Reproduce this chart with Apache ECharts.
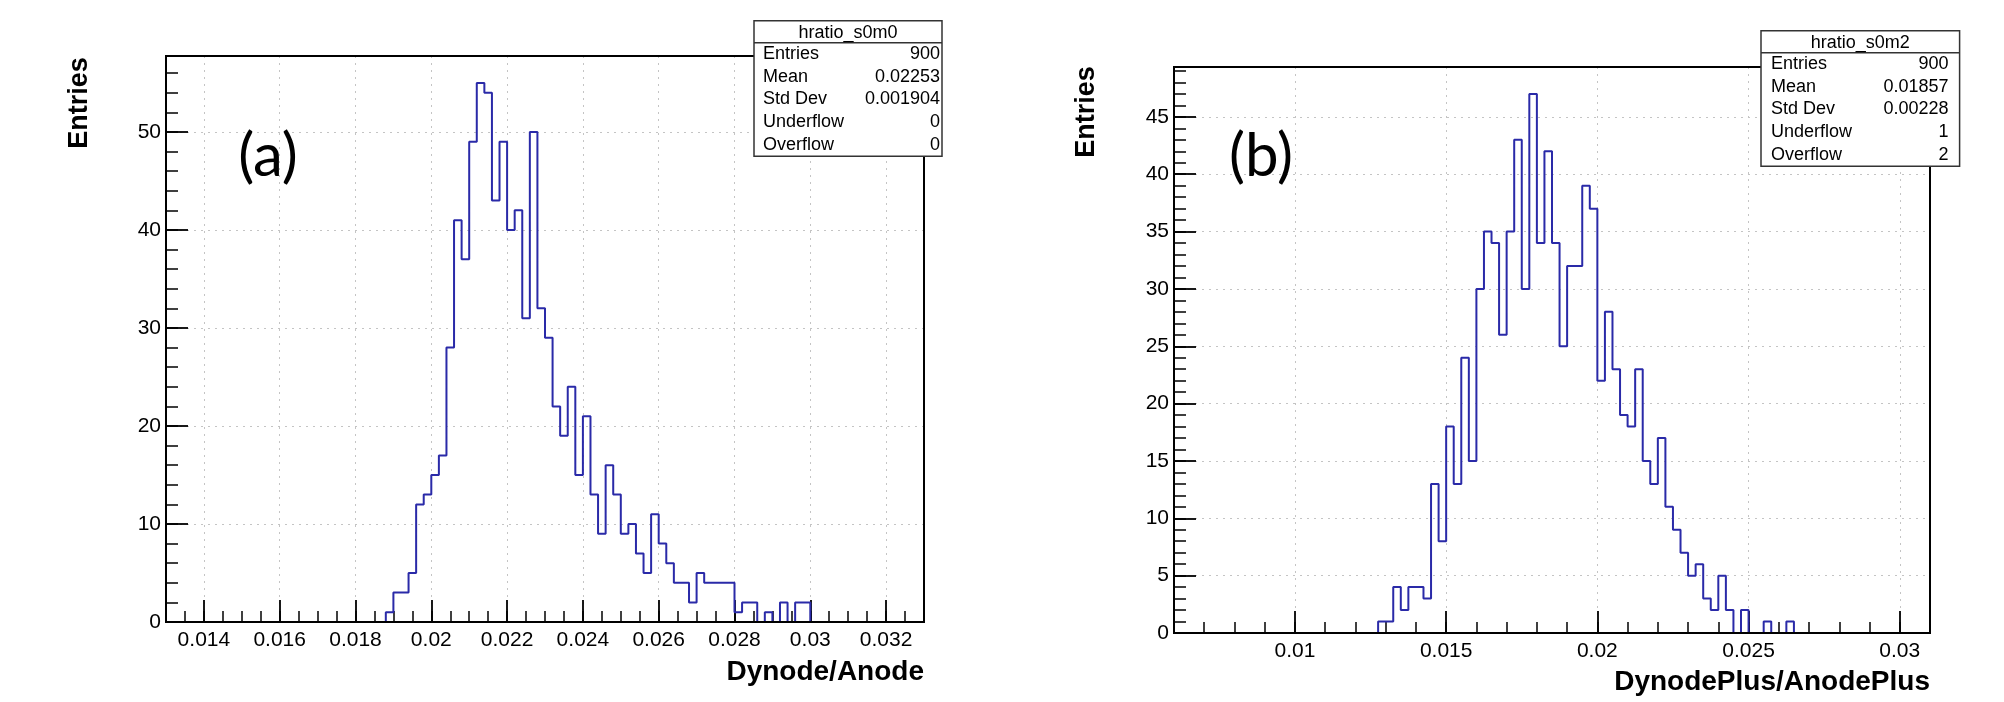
<!DOCTYPE html>
<html>
<head>
<meta charset="utf-8">
<script src="https://cdn.jsdelivr.net/npm/echarts@6/dist/echarts.min.js"></script>
<style>
html, body { margin: 0; padding: 0; background: #fff; }
#main { width: 2004px; height: 702px; }
</style>
</head>
<body>
<div id="main"></div>
<script>
// (a) hratio_s0m0 : 100 bins between 0.013 and 0.033
var rangeA = [0.013, 0.033]
var countsA = [
  0, 0, 0, 0, 0, 0, 0, 0, 0, 0, 0, 0, 0, 0, 0, 0, 0, 0, 0, 0,
  0, 0, 0, 0, 0, 0, 0, 0, 0, 1, 3, 3, 5, 12, 13, 15, 17, 28, 41, 37,
  49, 55, 54, 43, 49, 40, 42, 31, 50, 32, 29, 22, 19, 24, 15, 21, 13, 9, 16, 13,
  9, 10, 7, 5, 11, 8, 6, 4, 4, 2, 5, 4, 4, 4, 4, 1, 2, 2, 0, 1,
  0, 2, 0, 2, 2, 0, 0, 0, 0, 0, 0, 0, 0, 0, 0, 0, 0, 0, 0, 0
]
var xTicksA = [0.014, 0.016, 0.018, 0.02, 0.022, 0.024, 0.026, 0.028, 0.03, 0.032]
var yTicksA = [0, 10, 20, 30, 40, 50]
var statsA = ['900', '0.02253', '0.001904', '0', '0']

// (b) hratio_s0m2 : 100 bins between 0.006 and 0.031
var rangeB = [0.006, 0.031]
var countsB = [
  0, 0, 0, 0, 0, 0, 0, 0, 0, 0, 0, 0, 0, 0, 0, 0, 0, 0, 0, 0,
  0, 0, 0, 0, 0, 0, 0, 1, 1, 4, 2, 4, 4, 3, 13, 8, 18, 13, 24, 15,
  30, 35, 34, 26, 35, 43, 30, 47, 34, 42, 34, 25, 32, 32, 39, 37, 22, 28, 23, 19,
  18, 23, 15, 13, 17, 11, 9, 7, 5, 6, 3, 2, 5, 2, 0, 2, 0, 0, 1, 0,
  0, 1, 0, 0, 0, 0, 0, 0, 0, 0, 0, 0, 0, 0, 0, 0, 0, 0, 0, 0
]
var xTicksB = [0.01, 0.015, 0.02, 0.025, 0.03]
var yTicksB = [0, 5, 10, 15, 20, 25, 30, 35, 40, 45]
var statsB = ['900', '0.01857', '0.00228', '1', '2']

var statNames = ['Entries', 'Mean', 'Std Dev', 'Underflow', 'Overflow']

var FONT = 'Liberation Sans, Arial, Helvetica, sans-serif'
var LINE = '#2a2aa8'

// plot frames (left, top, width, height)
var frameA = [166, 56, 758, 566]
var frameB = [1174, 67, 756, 566]

// histogram outline: one point per low edge, plus the upper edge
function stepData(range, counts) {
  var w = (range[1] - range[0]) / counts.length
  var pts = []
  for (var i = 0; i < counts.length; i++) {
    pts.push([range[0] + i * w, counts[i]])
  }
  pts.push([range[1], counts[counts.length - 1]])
  return pts
}

function fmt(v) {
  return String(+Number(v).toPrecision(6))
}

// only print the labels listed in ticks (hides the extent labels)
function labelsFrom(ticks) {
  return function (v) {
    for (var i = 0; i < ticks.length; i++) {
      if (Math.abs(ticks[i] - v) < 1e-9) return fmt(v)
    }
    return ''
  }
}

function gridOf(f) {
  return { left: f[0], top: f[1], width: f[2], height: f[3], show: false }
}

function minorAxis(grid, pos, min, max, step, len) {
  return {
    type: 'value', gridIndex: grid, position: pos, min: min, max: max, interval: step,
    axisLine: { show: false },
    axisTick: { show: true, inside: true, length: len, lineStyle: { color: '#000', width: 1.5 } },
    axisLabel: { show: false },
    splitLine: { show: false }
  }
}

function majorAxis(grid, pos, min, max, ticks, step, margin) {
  return {
    type: 'value', gridIndex: grid, position: pos, min: min, max: max,
    minInterval: step, maxInterval: step, splitNumber: 10,
    axisLine: { show: true, onZero: false, lineStyle: { color: '#000', width: 2 } },
    axisTick: { show: true, inside: true, length: 22, lineStyle: { color: '#000', width: 1.8 } },
    axisLabel: { margin: margin, fontSize: 21, color: '#000', fontFamily: FONT, formatter: labelsFrom(ticks) },
    splitLine: { show: true, lineStyle: { color: '#c4c4c4', width: 1, type: [2, 5] } }
  }
}

function frameRect(f) {
  return { type: 'rect', z: 15, shape: { x: f[0], y: f[1], width: f[2], height: f[3] },
    style: { fill: 'none', stroke: '#000', lineWidth: 2 } }
}

function statBox(x0, y0, w, title, values, padL, padR) {
  var titleH = 22
  var rowH = 22.7
  var h = titleH + rowH * 5
  var els = [
    { type: 'rect', z: 20, shape: { x: x0, y: y0, width: w, height: h },
      style: { fill: '#fff', stroke: '#333', lineWidth: 1.5 } },
    { type: 'line', z: 21, shape: { x1: x0, y1: y0 + titleH, x2: x0 + w, y2: y0 + titleH },
      style: { stroke: '#333', lineWidth: 1.5 } },
    { type: 'text', z: 21, x: x0 + w / 2, y: y0 + titleH / 2 + 1,
      style: { text: title, fontSize: 18, fontFamily: FONT, fill: '#000', align: 'center', verticalAlign: 'middle' } }
  ]
  for (var k = 0; k < statNames.length; k++) {
    var cy = y0 + titleH + rowH * (k + 0.5)
    els.push({ type: 'text', z: 21, x: x0 + padL, y: cy,
      style: { text: statNames[k], fontSize: 18, fontFamily: FONT, fill: '#000', align: 'left', verticalAlign: 'middle' } })
    els.push({ type: 'text', z: 21, x: x0 + w - padR, y: cy,
      style: { text: values[k], fontSize: 18, fontFamily: FONT, fill: '#000', align: 'right', verticalAlign: 'middle' } })
  }
  return els
}

function label(text, x, y, size, opts) {
  opts = opts || {}
  return {
    type: 'text', z: 10, x: x, y: y, rotation: opts.rotation || 0,
    style: {
      text: text, fontSize: size, fontFamily: opts.family || FONT, fontWeight: opts.weight || 'normal',
      fill: '#000', align: opts.align || 'center', verticalAlign: 'middle'
    }
  }
}

var yMaxA = Math.max.apply(null, countsA) * 1.05
var yMaxB = Math.max.apply(null, countsB) * 1.05

var chart = echarts.init(document.getElementById('main'))
chart.setOption({
  backgroundColor: '#fff',
  animation: false,
  // grids 0,1 carry the data and minor ticks, grids 2,3 the major ticks, labels and grid lines
  grid: [gridOf(frameA), gridOf(frameB), gridOf(frameA), gridOf(frameB)],
  xAxis: [
    minorAxis(0, 'bottom', rangeA[0], rangeA[1], 0.0005, 11),
    minorAxis(1, 'bottom', rangeB[0], rangeB[1], 0.001, 11),
    majorAxis(2, 'bottom', rangeA[0], rangeA[1], xTicksA, 0.002, 8),
    majorAxis(3, 'bottom', rangeB[0], rangeB[1], xTicksB, 0.005, 8)
  ],
  yAxis: [
    minorAxis(0, 'left', 0, yMaxA, 2, 12),
    minorAxis(1, 'left', 0, yMaxB, 1, 12),
    majorAxis(2, 'left', 0, yMaxA, yTicksA, 10, 5),
    majorAxis(3, 'left', 0, yMaxB, yTicksB, 5, 5)
  ],
  series: [
    {
      name: 'hratio_s0m0', type: 'line', xAxisIndex: 0, yAxisIndex: 0,
      data: stepData(rangeA, countsA), step: 'end', symbol: 'none',
      lineStyle: { color: LINE, width: 2 }, z: 5
    },
    {
      name: 'hratio_s0m2', type: 'line', xAxisIndex: 1, yAxisIndex: 1,
      data: stepData(rangeB, countsB), step: 'end', symbol: 'none',
      lineStyle: { color: LINE, width: 2 }, z: 5
    }
  ],
  graphic: [].concat(
    [frameRect(frameA), frameRect(frameB)],
    statBox(754, 20.7, 188, 'hratio_s0m0', statsA, 9, 2),
    statBox(1761, 30.7, 198.6, 'hratio_s0m2', statsB, 10, 11),
    [
      label('(a)', 268, 157, 60, { family: 'Lato, Open Sans, sans-serif' }),
      label('(b)', 1261, 157, 60, { family: 'Lato, Open Sans, sans-serif' }),
      label('Entries', 80, 103, 27, { weight: 'bold', rotation: Math.PI / 2 }),
      label('Entries', 1087, 112, 27, { weight: 'bold', rotation: Math.PI / 2 }),
      label('Dynode/Anode', 924, 672, 28, { weight: 'bold', align: 'right' }),
      label('DynodePlus/AnodePlus', 1930, 682, 28, { weight: 'bold', align: 'right' })
    ]
  )
})
</script>
</body>
</html>
